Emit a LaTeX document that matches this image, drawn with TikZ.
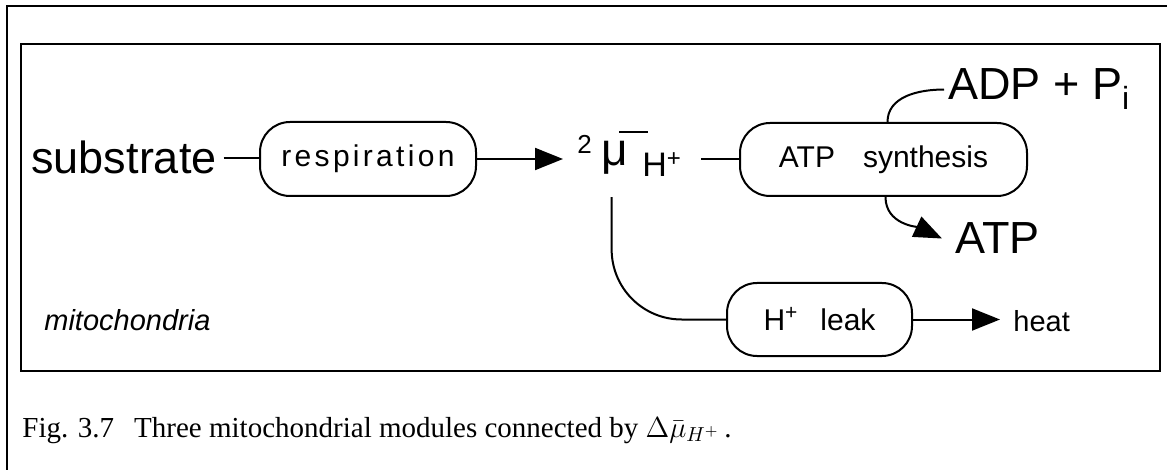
\RequirePackage{fix-cm}
\documentclass[tikz,border=0pt]{standalone}
\usepackage{fontspec}
\setmainfont{Liberation Serif}
\setsansfont{Liberation Sans}
\newfontfamily\spacedsf[LetterSpace=11]{Liberation Sans}
\usetikzlibrary{arrows.meta,positioning}

\begin{document}
\begin{tikzpicture}[
  x=0.5pt,y=-0.5pt,
  box/.style={draw,line width=1pt,rounded corners=15pt,inner sep=0pt,font=\sffamily\fontsize{15}{17}\selectfont},
  big/.style={font=\sffamily\fontsize{22.5}{26}\selectfont},
  txt/.style={font=\sffamily\fontsize{14.5}{17}\selectfont},
  arr/.style={-{Triangle[length=14pt,width=11pt]},line width=1pt},
  con/.style={line width=1pt}
]
\useasboundingbox (0,0) rectangle (1167,470);
% frames
\draw[line width=1.2pt] (7,470) -- (7,6) -- (1167,6);
\draw[line width=1.3pt] (21,44) rectangle (1160,371);

% respiration module
\node[big,anchor=base] (subst) at (124,174) {substrate};
\node[box,minimum width=108pt,minimum height=37pt] (resp) at (368,159) {\spacedsf respiration};

% proton motive force
\node[inner sep=0pt,anchor=base west,font=\sffamily\fontsize{13}{13}\selectfont] (two) at (577,154) {2};
\node[inner sep=0pt,anchor=base west,font=\sffamily\fontsize{23}{26}\selectfont] (dmu) at (601,166) {μ};
\node[inner sep=0pt,anchor=base west,font=\sffamily\fontsize{17}{20}\selectfont] (hp) at (642,177) {H\raisebox{5pt}{\fontsize{12}{12}\selectfont+}};

% ATP synthesis module
\node[box,minimum width=143.5pt,minimum height=36.5pt] (synth) at (883.5,159.5) {ATP\hspace{14pt}synthesis};
\node[big,anchor=base west,inner sep=0pt] (adp) at (948,100) {ADP + P\raisebox{-5pt}{\fontsize{16}{16}\selectfont i}};
\node[big,anchor=base west,inner sep=0pt] (atp) at (955,254) {ATP};

% leak module
\node[box,minimum width=92.5pt,minimum height=36.5pt] (leak) at (819.5,319.5) {H\textsuperscript{+}\hspace{11pt}leak\hspace{12pt}};
\node[txt,anchor=west,inner sep=0pt] (heat) at (1013,321) {heat};
\node[anchor=base west,inner sep=0pt,font=\sffamily\itshape\fontsize{14.5}{17}\selectfont] (mito) at (44,330) {mitochondria};

% connections
\draw[con] (subst.east) -- (subst.east -| resp.west);
\draw[arr] (resp.east) -- ([xshift=-7pt]resp.east -| two.west);
\draw[con] ([xshift=9pt,yshift=4.5pt]dmu.north west) -- ++(29,0);
\draw[con] (synth.west) -- ++(-38,0);
\draw[con] ([xshift=2pt]synth.north) to[out=90,in=180] ([xshift=-2pt]adp.west);
\draw[arr] ([xshift=1pt]synth.south) to[out=-90,in=155] ([xshift=-6.5pt]atp.west);
\draw[con,rounded corners=35pt] ([xshift=-1.5pt,yshift=-11pt]dmu.south) |- (leak.west);
\draw[arr,shorten >=6.5pt] (leak.east) -- (leak.east -| heat.west);

% caption
\node[anchor=base west,inner sep=0pt,font=\fontsize{14.5}{17}\selectfont] (cap) at (22,437) {Fig. 3.7\hspace{10pt}Three mitochondrial modules connected by $\Delta\bar{\mu}_{H^+}$\,.};
\end{tikzpicture}
\end{document}
